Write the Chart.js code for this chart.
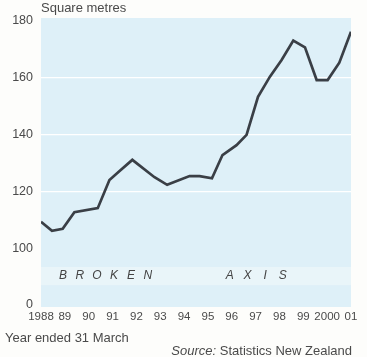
<!DOCTYPE html>
<html>
<head>
<meta charset="utf-8">
<script src="https://cdn.jsdelivr.net/npm/chart.js@4/dist/chart.umd.min.js"></script>
<style>
  html, body { margin: 0; padding: 0; background: #fdfdfb; }
  #wrap { position: relative; width: 367px; height: 357px; font-family: "Liberation Sans", Arial, sans-serif; color: #4a4a4a; }
  canvas { position: absolute; left: 0; top: 0; }
  .t { position: absolute; font-size: 13px; white-space: nowrap; line-height: 1; }
</style>
</head>
<body>
<div id="wrap">
  <canvas id="c" width="367" height="357"></canvas>
  <div class="t" id="unit" style="left:41px; top:1px;">Square metres</div>
  <div class="t" id="xtitle" style="left:5px; top:331px;">Year ended 31 March</div>
  <div class="t" id="src" style="right:15px; top:344px;"><i>Source:</i> Statistics New Zealand</div>
</div>
<script>
// Data (year position, floor area in square metres)
const years  = [1988.0, 1988.46, 1988.91, 1989.4, 1990.38, 1990.87, 1991.26, 1991.83, 1992.76, 1993.29, 1994.23, 1994.65, 1995.17, 1995.61, 1996.2, 1996.62, 1997.1, 1997.6, 1998.09, 1998.58, 1999.07, 1999.56, 2000.02, 2000.51, 2001.0];
const area   = [109.3, 106.1, 106.8, 112.7, 114.1, 124.0, 126.9, 131.1, 125.0, 122.3, 125.4, 125.4, 124.6, 132.8, 136.3, 139.9, 153.3, 160.4, 166.3, 173.1, 170.7, 159.2, 159.2, 165.3, 176.2];
const xTickYears  = [1988, 1989, 1990, 1991, 1992, 1993, 1994, 1995, 1996, 1997, 1998, 1999, 2000, 2001];
const xTickLabels = ['1988', '89', '90', '91', '92', '93', '94', '95', '96', '97', '98', '99', '2000', '01'];
const yTickValues = [80, 100, 120, 140, 160, 180];
const yTickLabels = ['0', '100', '120', '140', '160', '180'];
const brokenWords = ['BROKEN', 'AXIS'];

const points = years.map((x, i) => ({ x: x, y: area[i] }));

const bgPlugin = {
  id: 'bg',
  beforeDraw(chart) {
    const { ctx, chartArea: a, scales } = chart;
    ctx.save();
    ctx.fillStyle = '#def0f8';
    ctx.fillRect(a.left, a.top - 3, a.right - a.left, a.bottom - a.top + 5);
    // broken-axis band
    const y1 = scales.y.getPixelForValue(93.4);
    const y2 = scales.y.getPixelForValue(87.0);
    ctx.fillStyle = '#e9f5f9';
    ctx.fillRect(a.left, y1, a.right - a.left, y2 - y1);
    ctx.restore();
  },
  afterDatasetsDraw(chart) {
    const { ctx, scales } = chart;
    ctx.save();
    ctx.fillStyle = '#444';
    ctx.font = 'italic 12px "Liberation Sans", Arial, sans-serif';
    ctx.textAlign = 'center';
    ctx.textBaseline = 'middle';
    const y = scales.y.getPixelForValue(90.2);
    const starts = [scales.x.getPixelForValue(1988.92), scales.x.getPixelForValue(1995.92)];
    const steps = [17, 17.6];
    brokenWords.forEach((w, k) => {
      for (let i = 0; i < w.length; i++) ctx.fillText(w[i], starts[k] + i * steps[k], y);
    });
    ctx.restore();
  }
};

new Chart(document.getElementById('c'), {
  type: 'line',
  data: {
    datasets: [{
      data: points,
      borderColor: '#3a3f46',
      borderWidth: 2.7,
      pointRadius: 0,
      tension: 0,
      fill: false
    }]
  },
  options: {
    responsive: false,
    animation: false,
    devicePixelRatio: 1,
    layout: { padding: { left: 0, right: 16, top: 21, bottom: 0 } },
    plugins: { legend: { display: false }, tooltip: { enabled: false }, title: { display: false } },
    scales: {
      x: {
        type: 'linear',
        min: 1988,
        max: 2001,
        afterBuildTicks(scale) { scale.ticks = xTickYears.map(v => ({ value: v })); },
        afterFit(scale) { scale.height = 52; },
        border: { display: false },
        grid: { display: false, drawTicks: false },
        ticks: {
          autoSkip: false,
          maxRotation: 0,
          padding: 5,
          color: '#4a4a4a',
          font: { family: '"Liberation Sans", Arial, sans-serif', size: 11.5 },
          callback: (v) => { const i = xTickYears.indexOf(v); return i >= 0 ? xTickLabels[i] : ''; }
        }
      },
      y: {
        type: 'linear',
        min: 80,
        max: 180,
        afterBuildTicks(scale) { scale.ticks = yTickValues.map(v => ({ value: v })); },
        afterFit(scale) { scale.width = 41; },
        border: { display: false },
        grid: {
          drawTicks: false,
          lineWidth: 1.2,
          color: (ctx) => (ctx.tick && [120, 140, 160].includes(ctx.tick.value)) ? '#ffffff' : 'rgba(0,0,0,0)'
        },
        ticks: {
          padding: 8,
          color: '#4a4a4a',
          font: { family: '"Liberation Sans", Arial, sans-serif', size: 12.5 },
          callback: (v) => { const i = yTickValues.indexOf(v); return i >= 0 ? yTickLabels[i] : ''; }
        }
      }
    }
  },
  plugins: [bgPlugin]
});
</script>
</body>
</html>
